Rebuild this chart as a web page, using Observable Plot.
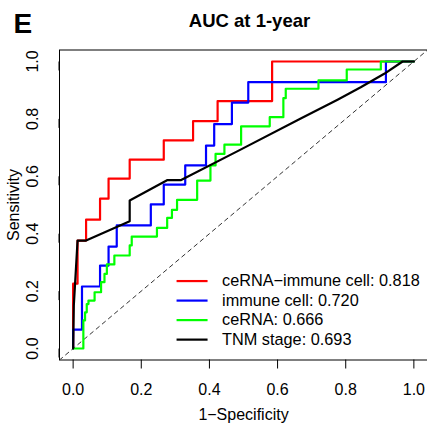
<!DOCTYPE html>
<html>
<head>
<meta charset="utf-8">
<script src="https://cdn.jsdelivr.net/npm/d3@7"></script>
<script src="https://cdn.jsdelivr.net/npm/@observablehq/plot@0.6"></script>
<style>
  html, body { margin: 0; padding: 0; background: #fff; }
  #chart svg { display: block; }
</style>
</head>
<body>
<div id="chart"></div>
<script>
// ---- Data (ROC coordinates) ----
const seriesNames = ["ceRNA−immune cell", "immune cell", "ceRNA", "TNM stage"];
const aucValues = ["0.818", "0.720", "0.666", "0.693"];
const seriesColors = ["#FF0000", "#0000FF", "#00FF00", "#000000"];

const fprRed = [0, 0, 0.013, 0.013, 0.038, 0.038, 0.079, 0.079, 0.104, 0.104, 0.166, 0.166, 0.266, 0.266, 0.352, 0.352, 0.424, 0.424, 0.584, 0.584, 1];
const tprRed = [0, 0.226, 0.226, 0.376, 0.376, 0.449, 0.449, 0.522, 0.522, 0.592, 0.592, 0.658, 0.658, 0.725, 0.725, 0.792, 0.792, 0.862, 0.862, 1, 1];

const fprBlue = [0, 0, 0.026, 0.026, 0.079, 0.079, 0.104, 0.104, 0.128, 0.128, 0.228, 0.228, 0.266, 0.266, 0.329, 0.329, 0.390, 0.390, 0.414, 0.414, 0.466, 0.466, 0.514, 0.514, 0.918, 0.918, 1];
const tprBlue = [0, 0.066, 0.066, 0.216, 0.216, 0.289, 0.289, 0.355, 0.355, 0.429, 0.429, 0.502, 0.502, 0.571, 0.571, 0.638, 0.638, 0.707, 0.707, 0.782, 0.782, 0.857, 0.857, 0.928, 0.928, 1, 1];

const fprGreen = [0, 0.030, 0.030, 0.035, 0.035, 0.040, 0.040, 0.045, 0.045, 0.063, 0.063, 0.082, 0.082, 0.092, 0.092, 0.099, 0.099, 0.121, 0.121, 0.166, 0.166, 0.172, 0.172, 0.246, 0.246, 0.276, 0.276, 0.290, 0.290, 0.305, 0.305, 0.364, 0.364, 0.403, 0.403, 0.418, 0.418, 0.444, 0.444, 0.493, 0.493, 0.577, 0.577, 0.617, 0.617, 0.624, 0.624, 0.720, 0.720, 0.803, 0.803, 0.903, 0.903, 1];
const tprGreen = [0, 0, 0.098, 0.098, 0.126, 0.126, 0.155, 0.155, 0.167, 0.167, 0.196, 0.196, 0.231, 0.231, 0.260, 0.260, 0.293, 0.293, 0.324, 0.324, 0.359, 0.359, 0.390, 0.390, 0.420, 0.420, 0.455, 0.455, 0.483, 0.483, 0.518, 0.518, 0.585, 0.585, 0.638, 0.638, 0.678, 0.678, 0.710, 0.710, 0.774, 0.774, 0.806, 0.806, 0.872, 0.872, 0.905, 0.905, 0.934, 0.934, 0.972, 0.972, 1, 1];

const fprBlack = [0, 0.002, 0.013, 0.038, 0.166, 0.166, 0.277, 0.317, 0.49, 0.668, 0.776, 0.844, 0.913, 0.967, 1];
const tprBlack = [0, 0.15, 0.376, 0.376, 0.443, 0.516, 0.587, 0.587, 0.692, 0.801, 0.867, 0.910, 0.957, 1.0, 1];

const axisTicks = [0, 0.2, 0.4, 0.6, 0.8, 1.0];
const titleText = "AUC at 1-year";
const panelLetter = "E";
const xLabel = "1−Specificity";
const yLabel = "Sensitivity";

// ---- Build tables ----
const fprs = [fprRed, fprBlue, fprGreen, fprBlack];
const tprs = [tprRed, tprBlue, tprGreen, tprBlack];
const curves = seriesNames.map((name, s) =>
  fprs[s].map((x, i) => ({series: name, fpr: x, tpr: tprs[s][i]}))
);
const legendRows = seriesNames.map((name, i) => ({
  i, name, label: `${name}: ${aucValues[i]}`, color: seriesColors[i]
}));

// legend layout (in data space of the plot)
const legX1 = 0.305, legX2 = 0.396, legTextX = 0.437, legTop = 0.235, legStep = 0.068;

const font = "'Liberation Sans', Arial, Helvetica, sans-serif";

const chart = Plot.plot({
  width: 427,
  height: 425,
  marginLeft: 59,
  marginRight: 0,
  marginTop: 49.5,
  marginBottom: 65.5,
  style: {fontFamily: font, fontSize: "16px", color: "black", background: "white"},
  x: {domain: [-0.04, 1.04]},
  y: {domain: [-0.04, 1.04]},
  marks: [
    // diagonal reference
    Plot.line([[-0.04, -0.04], [1.04, 1.04]], {stroke: "#333", strokeWidth: 1, strokeDasharray: "4,4", clip: true}),
    // ROC curves
    ...curves.map((c, s) => Plot.line(c, {x: "fpr", y: "tpr", stroke: seriesColors[s], strokeWidth: 2.2, clip: true})),
    // frame
    Plot.frame({stroke: "black", strokeWidth: 1}),
    // axes
    Plot.axisX({ticks: axisTicks, tickFormat: d3.format(".1f"), tickSize: 9, tickPadding: 15, fontSize: 16, label: null, stroke: "black"}),
    Plot.axisY({ticks: axisTicks, tickFormat: d3.format(".1f"), tickSize: 9, tickPadding: 18, fontSize: 16, label: null, rotate: -90, textAnchor: "middle", lineAnchor: "middle"}),
    Plot.text([xLabel], {frameAnchor: "bottom", lineAnchor: "bottom", dy: 60, fontSize: 16, text: d => d}),
    Plot.text([yLabel], {frameAnchor: "left", rotate: -90, textAnchor: "middle", lineAnchor: "middle", dx: -46, fontSize: 16, text: d => d}),
    // title and panel letter
    Plot.text([titleText], {frameAnchor: "top", lineAnchor: "bottom", dy: -23.5, dx: 6, fontSize: 18.5, fontWeight: "bold", text: d => d}),
    Plot.text([panelLetter], {frameAnchor: "top-left", textAnchor: "start", lineAnchor: "bottom", dx: -46, dy: -17.5, fontSize: 28, fontWeight: "bold", text: d => d}),
    // legend
    Plot.ruleY(legendRows, {y: d => legTop - legStep * d.i, x1: legX1, x2: legX2, stroke: "color", strokeWidth: 2.2}),
    Plot.text(legendRows, {x: legTextX, y: d => legTop - legStep * d.i, text: "label", textAnchor: "start", lineAnchor: "middle", fontSize: 16.3})
  ]
});
document.getElementById("chart").appendChild(chart);
</script>
</body>
</html>
